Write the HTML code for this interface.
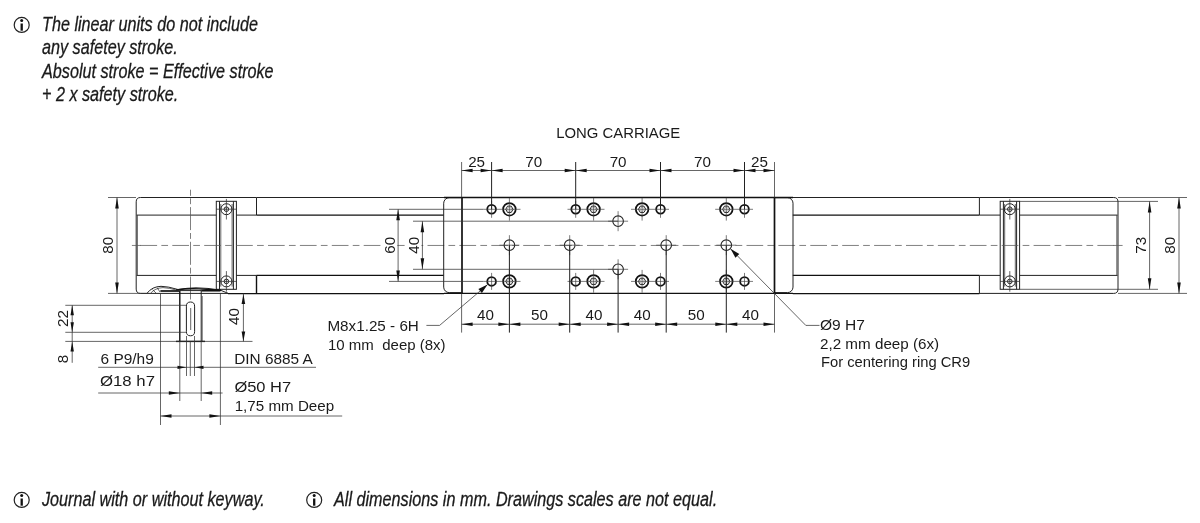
<!DOCTYPE html>
<html><head><meta charset="utf-8"><title>Long carriage</title>
<style>
html,body{margin:0;padding:0;background:#fff;}
body{width:1200px;height:523px;overflow:hidden;font-family:"Liberation Sans",sans-serif;}
svg{display:block;position:absolute;left:0;top:0;will-change:transform;opacity:0.999;}
text{font-family:"Liberation Sans",sans-serif;fill:#1a1a1a;}
.t{stroke:#333;stroke-width:0.75;fill:none;}
.m{stroke:#222;stroke-width:1;fill:none;}
.k{stroke:#111;stroke-width:1.4;fill:none;}
.kk{stroke:#111;stroke-width:1.7;fill:none;}
.h{stroke:#1a1a1a;stroke-width:0.95;fill:none;}
.h4{stroke:#888;stroke-width:0.5;fill:none;}
.h2{stroke:#555;stroke-width:0.55;fill:none;}
.k2{stroke:#111;stroke-width:1.6;fill:none;}
.k3{stroke:#111;stroke-width:1.75;fill:none;}
.k4{stroke:#111;stroke-width:1.8;fill:none;}
.a{fill:#111;stroke:none;}
.c{stroke:#555;stroke-width:0.75;fill:none;}
.x{stroke:#444;stroke-width:0.7;fill:none;}
.h3{stroke:#222;stroke-width:1.1;fill:none;}
.ic{stroke:#222;stroke-width:1.2;fill:none;}
</style></head><body>
<svg width="1200" height="523" viewBox="0 0 1200 523">
<path class="m" d="M256.5,197.5 H140.5 Q136.2,197.5 136.2,201.8 V289.09999999999997 Q136.2,293.4 140.5,293.4 H147"/>
<line class="m" x1="136.6" y1="215.1" x2="216.3" y2="215.1"/>
<line class="m" x1="236.4" y1="215.1" x2="256.5" y2="215.1"/>
<line class="m" x1="136.6" y1="275.4" x2="216.3" y2="275.4"/>
<line class="m" x1="236.4" y1="275.4" x2="256.5" y2="275.4"/>
<line class="t" x1="137.4" y1="215.1" x2="137.4" y2="275.4"/>
<line class="m" x1="256.5" y1="197.5" x2="256.5" y2="215.1"/>
<line class="k" x1="256.5" y1="275.4" x2="256.5" y2="293.9"/>
<line class="m" x1="256.5" y1="197.5" x2="444" y2="197.5"/>
<line class="k" x1="256.5" y1="215.1" x2="443.7" y2="215.1"/>
<line class="k" x1="256.5" y1="275.4" x2="443.7" y2="275.4"/>
<line class="k" x1="228" y1="293.59999999999997" x2="444" y2="293.59999999999997"/>
<line class="m" x1="792.8" y1="197.5" x2="979.4" y2="197.5"/>
<line class="k" x1="792.8" y1="215.1" x2="979.4" y2="215.1"/>
<line class="k" x1="792.8" y1="275.4" x2="979.4" y2="275.4"/>
<line class="k" x1="792.8" y1="293.59999999999997" x2="979.4" y2="293.59999999999997"/>
<path class="m" d="M979.4,197.5 H1113.7 Q1118,197.5 1118,201.8 V289.09999999999997 Q1118,293.4 1113.7,293.4 H979.4"/>
<line class="m" x1="979.4" y1="215.1" x2="1000.2" y2="215.1"/>
<line class="m" x1="1019.6" y1="215.1" x2="1117.5" y2="215.1"/>
<line class="m" x1="979.4" y1="275.4" x2="1000.2" y2="275.4"/>
<line class="m" x1="1019.6" y1="275.4" x2="1117.5" y2="275.4"/>
<line class="t" x1="1116.8" y1="215.1" x2="1116.8" y2="275.4"/>
<line class="m" x1="979.4" y1="197.5" x2="979.4" y2="215.1"/>
<line class="m" x1="979.4" y1="275.4" x2="979.4" y2="293.9"/>
<rect class="m" x="216.3" y="201.3" width="20.10" height="88" />
<line class="m" x1="219.5" y1="201.3" x2="219.5" y2="289.3"/>
<line class="m" x1="233.4" y1="201.3" x2="233.4" y2="289.3"/>
<line class="t" x1="220.8" y1="204" x2="220.8" y2="286.6"/>
<line class="t" x1="232.1" y1="204" x2="232.1" y2="286.6"/>
<circle class="m" cx="226.4" cy="209.2" r="5.5"/>
<circle class="h" cx="226.4" cy="209.2" r="2.3"/>
<circle class="h2" cx="226.4" cy="209.2" r="0.7"/>
<line class="t" x1="216.3" y1="209.2" x2="236.4" y2="209.2"/>
<line class="t" x1="226.4" y1="198.89999999999998" x2="226.4" y2="219.5"/>
<circle class="m" cx="226.4" cy="281.4" r="5.5"/>
<circle class="h" cx="226.4" cy="281.4" r="2.3"/>
<circle class="h2" cx="226.4" cy="281.4" r="0.7"/>
<line class="t" x1="216.3" y1="281.4" x2="236.4" y2="281.4"/>
<line class="t" x1="226.4" y1="271.09999999999997" x2="226.4" y2="291.7"/>
<rect class="m" x="1000.2" y="201.3" width="19.40" height="88" />
<line class="m" x1="1003.4" y1="201.3" x2="1003.4" y2="289.3"/>
<line class="m" x1="1016.6" y1="201.3" x2="1016.6" y2="289.3"/>
<line class="t" x1="1004.6999999999999" y1="204" x2="1004.6999999999999" y2="286.6"/>
<line class="t" x1="1015.3000000000001" y1="204" x2="1015.3000000000001" y2="286.6"/>
<circle class="m" cx="1009.8" cy="209.2" r="5.5"/>
<circle class="h" cx="1009.8" cy="209.2" r="2.3"/>
<circle class="h2" cx="1009.8" cy="209.2" r="0.7"/>
<line class="t" x1="1000.2" y1="209.2" x2="1019.6" y2="209.2"/>
<line class="t" x1="1009.8" y1="198.89999999999998" x2="1009.8" y2="219.5"/>
<circle class="m" cx="1009.8" cy="281.4" r="5.5"/>
<circle class="h" cx="1009.8" cy="281.4" r="2.3"/>
<circle class="h2" cx="1009.8" cy="281.4" r="0.7"/>
<line class="t" x1="1000.2" y1="281.4" x2="1019.6" y2="281.4"/>
<line class="t" x1="1009.8" y1="271.09999999999997" x2="1009.8" y2="291.7"/>
<line class="c" x1="140.4" y1="245.45" x2="1114.2" y2="245.45" stroke-dasharray="16.7 4.25 6.7 4.25"/>
<line class="c" x1="131.9" y1="245.45" x2="141" y2="245.45"/>
<line class="c" x1="1113.5" y1="245.45" x2="1122.6" y2="245.45"/>
<line class="c" x1="190.5" y1="189.7" x2="190.5" y2="195.8"/>
<line class="c" x1="190.5" y1="198.3" x2="190.5" y2="302" stroke-dasharray="5.9 2.9 23 2.9"/>
<rect x="381.5" y="235.2" width="15.8" height="20" fill="#fff"/><rect x="404.6" y="235.2" width="16.8" height="20" fill="#fff"/>
<path class="m" d="M461.6,197.7 H449.2 A5.5,5.5 0 0 0 443.7,203.2 V287.09999999999997 A5.5,5.5 0 0 0 449.2,292.59999999999997 H461.6"/>
<path class="m" d="M774.5,197.7 H787.5 A5.5,5.5 0 0 1 793,203.2 V287.09999999999997 A5.5,5.5 0 0 1 787.5,292.59999999999997 H774.5"/>
<line class="k" x1="444" y1="197.5" x2="793" y2="197.5"/>
<line class="k" x1="444" y1="293.4" x2="793" y2="293.4"/>
<line class="kk" x1="462.0" y1="197.5" x2="462.0" y2="293.4"/>
<line class="kk" x1="774.5" y1="197.5" x2="774.5" y2="293.4"/>
<circle class="k4" cx="491.6" cy="209.3" r="4.35"/>
<line class="x" x1="491.6" y1="200.8" x2="491.6" y2="217.8"/>
<circle class="k4" cx="575.7" cy="209.3" r="4.35"/>
<line class="x" x1="575.7" y1="200.8" x2="575.7" y2="217.8"/>
<circle class="k4" cx="660.5" cy="209.3" r="4.35"/>
<line class="x" x1="660.5" y1="200.8" x2="660.5" y2="217.8"/>
<circle class="k4" cx="744.5" cy="209.3" r="4.35"/>
<line class="x" x1="744.5" y1="200.8" x2="744.5" y2="217.8"/>
<circle class="k3" cx="509.4" cy="209.3" r="6.3"/>
<polygon class="h" points="513.05,209.30 511.22,212.46 507.57,212.46 505.75,209.30 507.57,206.14 511.22,206.14"/>
<circle class="h4" cx="509.4" cy="209.3" r="2.1"/>
<line class="x" x1="509.4" y1="197.8" x2="509.4" y2="220.60000000000002"/>
<circle class="k3" cx="593.6" cy="209.3" r="6.3"/>
<polygon class="h" points="597.25,209.30 595.43,212.46 591.77,212.46 589.95,209.30 591.77,206.14 595.43,206.14"/>
<circle class="h4" cx="593.6" cy="209.3" r="2.1"/>
<line class="x" x1="593.6" y1="197.8" x2="593.6" y2="220.60000000000002"/>
<circle class="k3" cx="642.1" cy="209.3" r="6.3"/>
<polygon class="h" points="645.75,209.30 643.93,212.46 640.27,212.46 638.45,209.30 640.27,206.14 643.93,206.14"/>
<circle class="h4" cx="642.1" cy="209.3" r="2.1"/>
<line class="x" x1="642.1" y1="197.8" x2="642.1" y2="220.60000000000002"/>
<circle class="k3" cx="726.3" cy="209.3" r="6.3"/>
<polygon class="h" points="729.95,209.30 728.12,212.46 724.47,212.46 722.65,209.30 724.47,206.14 728.12,206.14"/>
<circle class="h4" cx="726.3" cy="209.3" r="2.1"/>
<line class="x" x1="726.3" y1="197.8" x2="726.3" y2="220.60000000000002"/>
<line class="x" x1="483.5" y1="209.3" x2="520.5" y2="209.3"/>
<line class="x" x1="567.5" y1="209.3" x2="604.5" y2="209.3"/>
<line class="x" x1="631" y1="209.3" x2="669" y2="209.3"/>
<line class="x" x1="715.2" y1="209.3" x2="753" y2="209.3"/>
<circle class="k4" cx="491.6" cy="281.4" r="4.35"/>
<line class="x" x1="491.6" y1="272.9" x2="491.6" y2="289.9"/>
<circle class="k4" cx="575.7" cy="281.4" r="4.35"/>
<line class="x" x1="575.7" y1="272.9" x2="575.7" y2="289.9"/>
<circle class="k4" cx="660.5" cy="281.4" r="4.35"/>
<line class="x" x1="660.5" y1="272.9" x2="660.5" y2="289.9"/>
<circle class="k4" cx="744.5" cy="281.4" r="4.35"/>
<line class="x" x1="744.5" y1="272.9" x2="744.5" y2="289.9"/>
<circle class="k3" cx="509.4" cy="281.4" r="6.3"/>
<polygon class="h" points="513.05,281.40 511.22,284.56 507.57,284.56 505.75,281.40 507.57,278.24 511.22,278.24"/>
<circle class="h4" cx="509.4" cy="281.4" r="2.1"/>
<line class="x" x1="509.4" y1="269.9" x2="509.4" y2="292.7"/>
<circle class="k3" cx="593.6" cy="281.4" r="6.3"/>
<polygon class="h" points="597.25,281.40 595.43,284.56 591.77,284.56 589.95,281.40 591.77,278.24 595.43,278.24"/>
<circle class="h4" cx="593.6" cy="281.4" r="2.1"/>
<line class="x" x1="593.6" y1="269.9" x2="593.6" y2="292.7"/>
<circle class="k3" cx="642.1" cy="281.4" r="6.3"/>
<polygon class="h" points="645.75,281.40 643.93,284.56 640.27,284.56 638.45,281.40 640.27,278.24 643.93,278.24"/>
<circle class="h4" cx="642.1" cy="281.4" r="2.1"/>
<line class="x" x1="642.1" y1="269.9" x2="642.1" y2="292.7"/>
<circle class="k3" cx="726.3" cy="281.4" r="6.3"/>
<polygon class="h" points="729.95,281.40 728.12,284.56 724.47,284.56 722.65,281.40 724.47,278.24 728.12,278.24"/>
<circle class="h4" cx="726.3" cy="281.4" r="2.1"/>
<line class="x" x1="726.3" y1="269.9" x2="726.3" y2="292.7"/>
<line class="x" x1="483.5" y1="281.4" x2="520.5" y2="281.4"/>
<line class="x" x1="567.5" y1="281.4" x2="604.5" y2="281.4"/>
<line class="x" x1="631" y1="281.4" x2="669" y2="281.4"/>
<line class="x" x1="715.2" y1="281.4" x2="753" y2="281.4"/>
<circle class="h3" cx="509.4" cy="245.2" r="5.3"/>
<line class="x" x1="499.4" y1="245.2" x2="519.4" y2="245.2"/>
<line class="x" x1="509.4" y1="235.2" x2="509.4" y2="255.2"/>
<circle class="h3" cx="569.7" cy="245.2" r="5.3"/>
<line class="x" x1="559.7" y1="245.2" x2="579.7" y2="245.2"/>
<line class="x" x1="569.7" y1="235.2" x2="569.7" y2="255.2"/>
<circle class="h3" cx="666.2" cy="245.2" r="5.3"/>
<line class="x" x1="656.2" y1="245.2" x2="676.2" y2="245.2"/>
<line class="x" x1="666.2" y1="235.2" x2="666.2" y2="255.2"/>
<circle class="h3" cx="726.3" cy="245.2" r="5.3"/>
<line class="x" x1="716.3" y1="245.2" x2="736.3" y2="245.2"/>
<line class="x" x1="726.3" y1="235.2" x2="726.3" y2="255.2"/>
<circle class="h3" cx="618.1" cy="221.2" r="5.3"/>
<line class="x" x1="608.1" y1="221.2" x2="628.1" y2="221.2"/>
<line class="x" x1="618.1" y1="211.2" x2="618.1" y2="231.2"/>
<circle class="h3" cx="618.1" cy="269.3" r="5.3"/>
<line class="x" x1="608.1" y1="269.3" x2="628.1" y2="269.3"/>
<line class="x" x1="618.1" y1="259.3" x2="618.1" y2="279.3"/>
<line class="t" x1="461.6" y1="162" x2="461.6" y2="197.5"/>
<line class="t" x1="774.5" y1="162" x2="774.5" y2="197.5"/>
<line class="m" x1="491.6" y1="162" x2="491.6" y2="209.3"/>
<line class="m" x1="575.7" y1="162" x2="575.7" y2="209.3"/>
<line class="m" x1="660.5" y1="162" x2="660.5" y2="209.3"/>
<line class="m" x1="744.5" y1="162" x2="744.5" y2="209.3"/>
<line class="t" x1="461.6" y1="170.5" x2="774.5" y2="170.5"/>
<polygon class="a" points="461.60,170.50 472.60,168.70 472.60,172.30"/>
<polygon class="a" points="491.60,170.50 480.60,172.30 480.60,168.70"/>
<polygon class="a" points="491.60,170.50 502.60,168.70 502.60,172.30"/>
<polygon class="a" points="575.70,170.50 564.70,172.30 564.70,168.70"/>
<polygon class="a" points="575.70,170.50 586.70,168.70 586.70,172.30"/>
<polygon class="a" points="660.50,170.50 649.50,172.30 649.50,168.70"/>
<polygon class="a" points="660.50,170.50 671.50,168.70 671.50,172.30"/>
<polygon class="a" points="744.50,170.50 733.50,172.30 733.50,168.70"/>
<polygon class="a" points="744.50,170.50 755.50,168.70 755.50,172.30"/>
<polygon class="a" points="774.50,170.50 763.50,172.30 763.50,168.70"/>
<text x="476.6" y="166.7" font-size="15.2" text-anchor="middle">25</text>
<text x="533.6500000000001" y="166.7" font-size="15.2" text-anchor="middle">70</text>
<text x="618.1" y="166.7" font-size="15.2" text-anchor="middle">70</text>
<text x="702.5" y="166.7" font-size="15.2" text-anchor="middle">70</text>
<text x="759.5" y="166.7" font-size="15.2" text-anchor="middle">25</text>
<text x="618.2" y="138" font-size="14.1" text-anchor="middle" textLength="124" lengthAdjust="spacingAndGlyphs">LONG CARRIAGE</text>
<line class="t" x1="461.6" y1="293.4" x2="461.6" y2="332.6"/>
<line class="t" x1="774.5" y1="293.4" x2="774.5" y2="332.6"/>
<line class="m" x1="509.4" y1="245.2" x2="509.4" y2="332.6"/>
<line class="m" x1="569.7" y1="245.2" x2="569.7" y2="332.6"/>
<line class="m" x1="666.2" y1="245.2" x2="666.2" y2="332.6"/>
<line class="m" x1="726.3" y1="245.2" x2="726.3" y2="332.6"/>
<line class="m" x1="618.1" y1="269.3" x2="618.1" y2="332.6"/>
<line class="t" x1="461.6" y1="324.2" x2="774.5" y2="324.2"/>
<polygon class="a" points="461.60,324.20 472.60,322.40 472.60,326.00"/>
<polygon class="a" points="509.40,324.20 498.40,326.00 498.40,322.40"/>
<polygon class="a" points="509.40,324.20 520.40,322.40 520.40,326.00"/>
<polygon class="a" points="569.70,324.20 558.70,326.00 558.70,322.40"/>
<polygon class="a" points="569.70,324.20 580.70,322.40 580.70,326.00"/>
<polygon class="a" points="618.10,324.20 607.10,326.00 607.10,322.40"/>
<polygon class="a" points="618.10,324.20 629.10,322.40 629.10,326.00"/>
<polygon class="a" points="666.20,324.20 655.20,326.00 655.20,322.40"/>
<polygon class="a" points="666.20,324.20 677.20,322.40 677.20,326.00"/>
<polygon class="a" points="726.30,324.20 715.30,326.00 715.30,322.40"/>
<polygon class="a" points="726.30,324.20 737.30,322.40 737.30,326.00"/>
<polygon class="a" points="774.50,324.20 763.50,326.00 763.50,322.40"/>
<text x="485.5" y="320.3" font-size="15.2" text-anchor="middle">40</text>
<text x="539.55" y="320.3" font-size="15.2" text-anchor="middle">50</text>
<text x="593.9000000000001" y="320.3" font-size="15.2" text-anchor="middle">40</text>
<text x="642.1500000000001" y="320.3" font-size="15.2" text-anchor="middle">40</text>
<text x="696.25" y="320.3" font-size="15.2" text-anchor="middle">50</text>
<text x="750.4" y="320.3" font-size="15.2" text-anchor="middle">40</text>
<line class="t" x1="389" y1="209.3" x2="483.5" y2="209.3"/>
<line class="t" x1="389" y1="281.4" x2="483.5" y2="281.4"/>
<line class="t" x1="398.1" y1="209.3" x2="398.1" y2="281.4"/>
<polygon class="a" points="398.10,209.30 399.90,220.30 396.30,220.30"/>
<polygon class="a" points="398.10,281.40 396.30,270.40 399.90,270.40"/>
<line class="t" x1="413" y1="221.2" x2="618" y2="221.2"/>
<line class="t" x1="413" y1="269.3" x2="618" y2="269.3"/>
<line class="t" x1="422.4" y1="221.2" x2="422.4" y2="269.3"/>
<polygon class="a" points="422.40,221.20 424.20,232.20 420.60,232.20"/>
<polygon class="a" points="422.40,269.30 420.60,258.30 424.20,258.30"/>
<text x="394.6" y="245.2" font-size="15.2" text-anchor="middle" transform="rotate(-90 394.6 245.2)">60</text>
<text x="418.9" y="245.2" font-size="15.2" text-anchor="middle" transform="rotate(-90 418.9 245.2)">40</text>
<path class="t" d="M426.4,325.4 H439.6 L487.3,284.9"/>
<polygon class="a" points="487.60,284.60 481.88,293.00 478.38,288.88"/>
<text x="327.4" y="331" font-size="14.6" text-anchor="start" textLength="91.5" lengthAdjust="spacingAndGlyphs">M8x1.25 - 6H</text>
<text x="328" y="350" font-size="14.6" text-anchor="start" textLength="117.6" lengthAdjust="spacingAndGlyphs">10 mm&#160; deep (8x)</text>
<path class="t" d="M731,249.3 L805.8,325.4 H819.5"/>
<polygon class="a" points="730.50,248.80 739.30,253.90 735.44,257.68"/>
<text x="820" y="329.6" font-size="14.6" text-anchor="start" textLength="45" lengthAdjust="spacingAndGlyphs">&#216;9 H7</text>
<text x="820" y="349" font-size="14.6" text-anchor="start" textLength="119.2" lengthAdjust="spacingAndGlyphs">2,2 mm deep (6x)</text>
<text x="821" y="367.4" font-size="14.6" text-anchor="start" textLength="149.2" lengthAdjust="spacingAndGlyphs">For centering ring CR9</text>
<line class="t" x1="1019.6" y1="201.4" x2="1158" y2="201.4"/>
<line class="t" x1="1019.6" y1="289.3" x2="1158" y2="289.3"/>
<line class="t" x1="1118" y1="197.5" x2="1187" y2="197.5"/>
<line class="t" x1="1118" y1="293.4" x2="1187" y2="293.4"/>
<line class="t" x1="1149.6" y1="201.4" x2="1149.6" y2="289.3"/>
<polygon class="a" points="1149.60,201.40 1151.40,212.40 1147.80,212.40"/>
<polygon class="a" points="1149.60,289.30 1147.80,278.30 1151.40,278.30"/>
<line class="t" x1="1179" y1="197.5" x2="1179" y2="293.4"/>
<polygon class="a" points="1179.00,197.50 1180.80,208.50 1177.20,208.50"/>
<polygon class="a" points="1179.00,293.40 1177.20,282.40 1180.80,282.40"/>
<text x="1146" y="245.2" font-size="15.2" text-anchor="middle" transform="rotate(-90 1146 245.2)">73</text>
<text x="1175.5" y="245.2" font-size="15.2" text-anchor="middle" transform="rotate(-90 1175.5 245.2)">80</text>
<line class="t" x1="108" y1="197.5" x2="136" y2="197.5"/>
<line class="t" x1="108" y1="293.4" x2="147" y2="293.4"/>
<line class="t" x1="117" y1="197.5" x2="117" y2="293.4"/>
<polygon class="a" points="117.00,197.50 118.80,208.50 115.20,208.50"/>
<polygon class="a" points="117.00,293.40 115.20,282.40 118.80,282.40"/>
<text x="113.5" y="245.2" font-size="15.2" text-anchor="middle" transform="rotate(-90 113.5 245.2)">80</text>
<line class="m" x1="147" y1="293.4" x2="228" y2="293.4"/>
<path class="m" d="M147,293.3 Q152,286.6 161,286.3 Q168,286.4 178,289.5 Q187,288 196,287.8 Q208,288 220,290 L228,293.3"/>
<path class="t" d="M150.5,293.3 Q155,288 163,287.6 Q170,288 176,290"/>
<path class="t" d="M156,293 L152.5,289.5 M160,292 L157,287.5"/>
<line class="kk" x1="160.4" y1="291" x2="179.7" y2="291"/>
<line class="kk" x1="201.2" y1="290.7" x2="220.4" y2="290.7"/>
<line class="m" x1="179.8" y1="290.6" x2="201.2" y2="290.6"/>
<path class="k" d="M176,289.9 Q188,288.3 199,288.9 L221,290.2"/>
<line class="k" x1="179.8" y1="290.5" x2="179.8" y2="341.4"/>
<line class="m" x1="201.2" y1="290.5" x2="201.2" y2="341.4"/>
<line class="t" x1="202.2" y1="296" x2="202.2" y2="341.4"/>
<line class="k" x1="176" y1="341.4" x2="205" y2="341.4"/>
<rect class="m" x="186.4" y="302" width="8.2" height="33.8" rx="4.1"/>
<line class="t" x1="190.7" y1="308" x2="190.7" y2="330"/>
<line class="t" x1="65.3" y1="305.3" x2="186.4" y2="305.3"/>
<line class="t" x1="65.3" y1="332.3" x2="186.4" y2="332.3"/>
<line class="t" x1="65.3" y1="341.4" x2="252.5" y2="341.4"/>
<line class="t" x1="72.2" y1="305.3" x2="72.2" y2="362.8"/>
<polygon class="a" points="72.20,305.30 73.90,315.30 70.50,315.30"/>
<polygon class="a" points="72.20,332.30 70.50,322.30 73.90,322.30"/>
<polygon class="a" points="72.20,341.40 73.90,351.40 70.50,351.40"/>
<text x="68.3" y="318.5" font-size="15.2" text-anchor="middle" transform="rotate(-90 68.3 318.5)">22</text>
<text x="68.3" y="358.9" font-size="15.2" text-anchor="middle" transform="rotate(-90 68.3 358.9)">8</text>
<line class="t" x1="243.4" y1="293.4" x2="243.4" y2="341.4"/>
<polygon class="a" points="243.40,293.90 245.20,303.90 241.60,303.90"/>
<polygon class="a" points="243.40,341.40 241.60,331.40 245.20,331.40"/>
<text x="239.2" y="316.5" font-size="15.2" text-anchor="middle" transform="rotate(-90 239.2 316.5)">40</text>
<line class="t" x1="160.5" y1="293.4" x2="160.5" y2="425"/>
<line class="t" x1="220.4" y1="293.4" x2="220.4" y2="425"/>
<line class="t" x1="179.8" y1="341.4" x2="179.8" y2="401"/>
<line class="t" x1="201.2" y1="341.4" x2="201.2" y2="401"/>
<line class="t" x1="186.5" y1="336" x2="186.5" y2="376"/>
<line class="t" x1="194.5" y1="336" x2="194.5" y2="376"/>
<line class="t" x1="190.3" y1="341.4" x2="190.3" y2="376" />
<line class="t" x1="98.2" y1="367.3" x2="316" y2="367.3"/>
<polygon class="a" points="186.50,367.30 177.50,368.90 177.50,365.70"/>
<polygon class="a" points="194.50,367.30 203.50,365.70 203.50,368.90"/>
<line class="t" x1="98.2" y1="393" x2="222.6" y2="393"/>
<polygon class="a" points="179.80,393.00 168.80,394.70 168.80,391.30"/>
<polygon class="a" points="201.20,393.00 212.20,391.30 212.20,394.70"/>
<line class="t" x1="160.5" y1="416" x2="342.2" y2="416"/>
<polygon class="a" points="160.50,416.00 171.50,414.20 171.50,417.80"/>
<polygon class="a" points="220.40,416.00 209.40,417.80 209.40,414.20"/>
<text x="100.5" y="363.6" font-size="14.6" text-anchor="start" textLength="53.3" lengthAdjust="spacingAndGlyphs">6 P9/h9</text>
<text x="100" y="385.8" font-size="14.6" text-anchor="start" textLength="55" lengthAdjust="spacingAndGlyphs">&#216;18 h7</text>
<text x="234.2" y="363.6" font-size="14.6" text-anchor="start" textLength="78.6" lengthAdjust="spacingAndGlyphs">DIN 6885 A</text>
<text x="234.4" y="392.2" font-size="14.6" text-anchor="start" textLength="56.8" lengthAdjust="spacingAndGlyphs">&#216;50 H7</text>
<text x="234.7" y="411" font-size="14.6" text-anchor="start" textLength="99.5" lengthAdjust="spacingAndGlyphs">1,75 mm&#160;Deep</text>
<g transform="translate(21.7 24.9)"><circle class="ic" r="7.5"/><circle cx="0" cy="-4.3" r="1.5" fill="#111"/><path d="M0,-1.4 V5.8" fill="none" stroke="#111" stroke-width="2.3"/></g><g transform="translate(21.7 499.9)"><circle class="ic" r="7.5"/><circle cx="0" cy="-4.3" r="1.5" fill="#111"/><path d="M0,-1.4 V5.8" fill="none" stroke="#111" stroke-width="2.3"/></g><g transform="translate(314.2 499.9)"><circle class="ic" r="7.5"/><circle cx="0" cy="-4.3" r="1.5" fill="#111"/><path d="M0,-1.4 V5.8" fill="none" stroke="#111" stroke-width="2.3"/></g>
<text x="0" y="0" transform="translate(42 30.8) scale(0.8095 1)" font-size="20" font-style="italic" stroke="#1a1a1a" stroke-width="0.3">The linear units do not include</text><text x="0" y="0" transform="translate(42 54.2) scale(0.8095 1)" font-size="20" font-style="italic" stroke="#1a1a1a" stroke-width="0.3">any safetey stroke.</text><text x="0" y="0" transform="translate(42 77.7) scale(0.8095 1)" font-size="20" font-style="italic" stroke="#1a1a1a" stroke-width="0.3">Absolut stroke = Effective stroke</text><text x="0" y="0" transform="translate(42 101.1) scale(0.8095 1)" font-size="20" font-style="italic" stroke="#1a1a1a" stroke-width="0.3">+ 2 x safety stroke.</text><text x="0" y="0" transform="translate(42 506) scale(0.8095 1)" font-size="20" font-style="italic" stroke="#1a1a1a" stroke-width="0.3">Journal with or without keyway.</text><text x="0" y="0" transform="translate(334 506) scale(0.8095 1)" font-size="20" font-style="italic" stroke="#1a1a1a" stroke-width="0.3">All dimensions in mm. Drawings scales are not equal.</text>
</svg>
</body></html>
